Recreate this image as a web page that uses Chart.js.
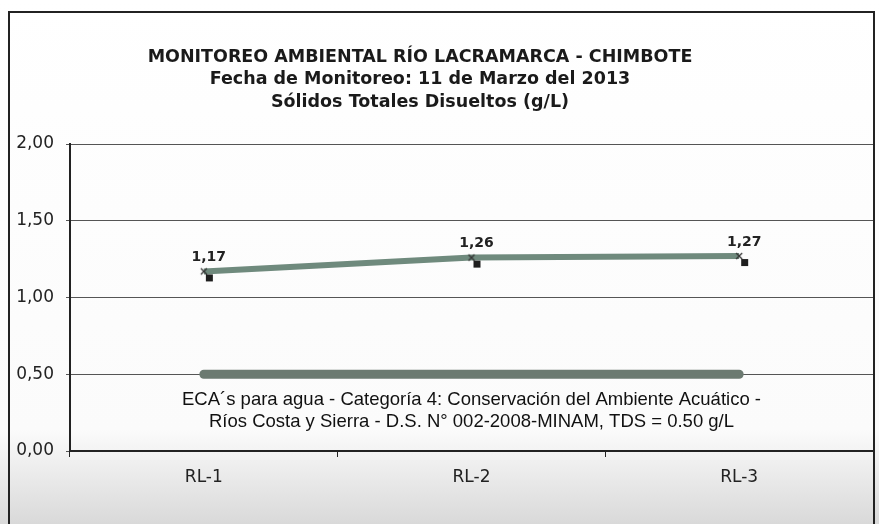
<!DOCTYPE html>
<html>
<head>
<meta charset="utf-8">
<script src="https://cdn.jsdelivr.net/npm/chart.js@4.4.0/dist/chart.umd.min.js"></script>
<style>
  html, body { margin: 0; padding: 0; background: #fff; }
  body { width: 879px; height: 524px; position: relative; overflow: hidden;
         background: linear-gradient(to bottom, #ffffff 0%, #fbfbfb 82%, #d9d9d9 100%); }
  #frame { position: absolute; left: 8px; top: 11px; width: 863px; height: 513px;
           border: 2px solid #222; border-bottom: none; }
  canvas { display: block; }
</style>
</head>
<body>
<div id="frame"><canvas id="tdsChart" width="863" height="511"></canvas></div>
<script>
const titleLines = [
  'MONITOREO AMBIENTAL RÍO LACRAMARCA - CHIMBOTE',
  'Fecha de Monitoreo: 11 de Marzo del 2013',
  'Sólidos Totales Disueltos (g/L)'
];
const stations = ['RL-1', 'RL-2', 'RL-3'];
const tdsValues = [1.17, 1.26, 1.27];
const ecaValues = [0.50, 0.50, 0.50];
const ecaNote = [
  'ECA´s para agua - Categoría 4: Conservación del Ambiente Acuático -',
  'Ríos Costa y Sierra - D.S. N° 002-2008-MINAM, TDS = 0.50 g/L'
];

const fmt = v => v.toFixed(2).replace('.', ',');

// marker like the original: small x with a dark square just below-right of it
function makeMarker() {
  const c = document.createElement('canvas');
  c.width = 24; c.height = 24;
  const g = c.getContext('2d');
  g.strokeStyle = '#333';
  g.lineWidth = 1.3;
  g.beginPath();
  g.moveTo(9, 9); g.lineTo(15, 15);
  g.moveTo(15, 9); g.lineTo(9, 15);
  g.stroke();
  g.fillStyle = '#1e1e1e';
  g.fillRect(14, 15, 7, 7);
  return c;
}

const textPlugin = {
  id: 'textPlugin',
  afterDatasetsDraw(chart) {
    const ctx = chart.ctx;
    const area = chart.chartArea;
    ctx.save();
    // titles
    ctx.fillStyle = '#1a1a1a';
    ctx.textAlign = 'center';
    ctx.textBaseline = 'middle';
    ctx.font = 'bold 17.5px "DejaVu Sans", Verdana, sans-serif';
    titleLines.forEach((t, i) => ctx.fillText(t, 410, 44 + i * 22.5));
    // data labels
    const meta = chart.getDatasetMeta(0);
    ctx.font = 'bold 14px "DejaVu Sans", Verdana, sans-serif';
    ctx.fillStyle = '#222';
    meta.data.forEach((pt, i) => {
      ctx.fillText(fmt(tdsValues[i]), pt.x + 5, pt.y - 14);
    });
    // ECA note
    ctx.font = '18.5px "Liberation Sans", Arial, sans-serif';
    ctx.fillStyle = '#111';
    const cx = (area.left + area.right) / 2;
    ecaNote.forEach((t, i) => ctx.fillText(t, cx, 387 + i * 22));
    ctx.restore();
  }
};

new Chart(document.getElementById('tdsChart'), {
  type: 'line',
  data: {
    labels: stations,
    datasets: [
      {
        label: 'TDS',
        data: tdsValues,
        borderColor: '#6f8a7d',
        borderWidth: 6,
        pointStyle: makeMarker(),
        pointRadius: 12,
        tension: 0
      },
      {
        label: 'ECA',
        data: ecaValues,
        borderColor: '#6c7a71',
        borderWidth: 9,
        borderCapStyle: 'round',
        pointRadius: 0,
        tension: 0
      }
    ]
  },
  options: {
    responsive: false,
    animation: false,
    devicePixelRatio: 1,
    layout: { autoPadding: false, padding: { top: 131, right: 0, left: 0, bottom: 0 } },
    plugins: {
      legend: { display: false },
      title: { display: false },
      tooltip: { enabled: false }
    },
    scales: {
      x: {
        offset: true,
        grid: { offset: true, drawOnChartArea: false, tickLength: 6, color: '#222' },
        border: { color: '#222', width: 2 },
        ticks: { color: '#222', padding: 10, font: { family: '"DejaVu Sans", Verdana, sans-serif', size: 17 } },
        afterFit(scale) {
          scale.height = 73;
          scale.paddingLeft = 0;
          scale.paddingRight = 0;
        }
      },
      y: {
        min: 0,
        max: 2,
        grid: { color: '#555', lineWidth: 1, tickLength: 4 },
        border: { color: '#222', width: 2 },
        ticks: {
          stepSize: 0.5,
          color: '#222',
          padding: 12,
          font: { family: '"DejaVu Sans", Verdana, sans-serif', size: 17 },
          callback: v => fmt(v)
        },
        afterFit(scale) { scale.width = 60; }
      }
    }
  },
  plugins: [textPlugin]
});
</script>
</body>
</html>
